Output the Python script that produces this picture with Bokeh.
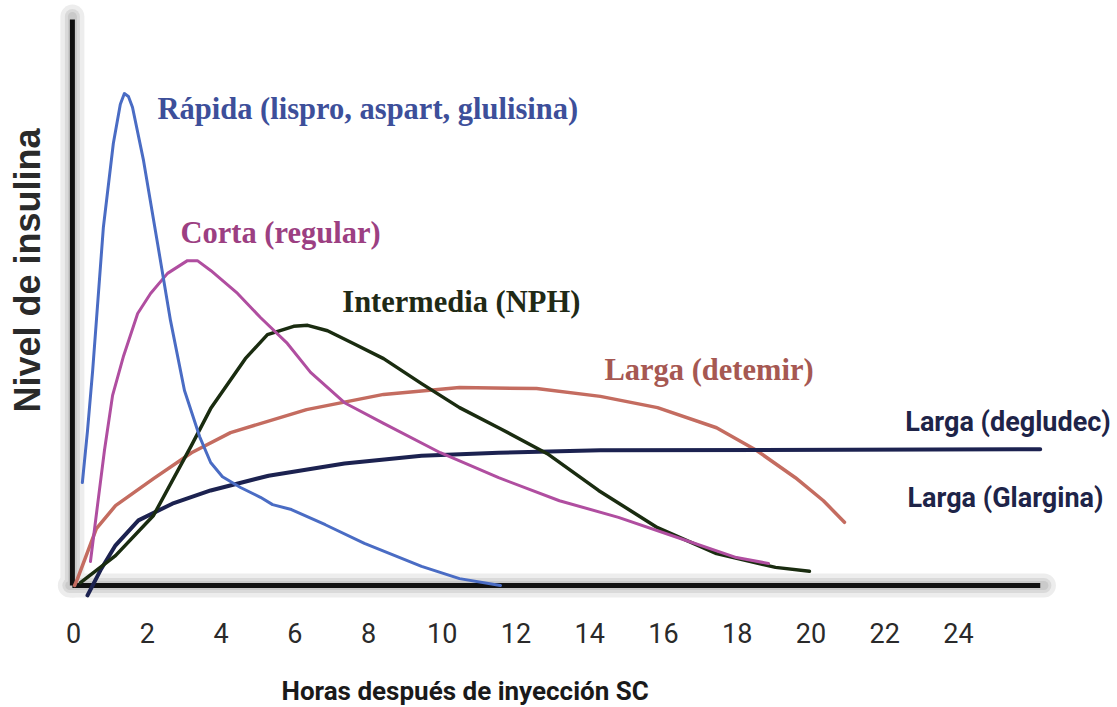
from bokeh.plotting import figure
from bokeh.models import Range1d
from bokeh.core.properties import value
from bokeh.embed import file_html
from bokeh.resources import INLINE
import math

# ---------------- data (hours after SC injection, relative insulin level) -------------
tick_hours = [0, 2, 4, 6, 8, 10, 12, 14, 16, 18, 20, 22, 24]
tick_labels = [str(t) for t in tick_hours]

rapida_h = [0.24, 0.38, 0.52, 0.81, 1.08, 1.27, 1.38, 1.49, 1.60, 1.90, 2.28, 2.63, 3.01,
            3.42, 3.72, 4.04, 4.53, 5.07, 5.40, 5.91, 6.83, 7.89, 9.44, 10.47, 11.58]
rapida_v = [21.0, 31.6, 43.9, 73.1, 90.2, 98.2, 100.4, 99.8, 97.6, 86.7, 69.8, 54.1, 39.8,
            30.4, 25.1, 22.2, 20.0, 18.0, 16.5, 15.5, 12.4, 8.6, 3.9, 1.4, 0.0]

corta_h = [0.46, 0.65, 0.84, 1.06, 1.36, 1.74, 2.09, 2.55, 3.09, 3.36, 3.72, 4.45, 5.07,
           5.80, 6.43, 7.35, 8.41, 9.95, 11.53, 13.18, 14.78, 16.38, 17.98, 18.85]
corta_v = [4.9, 16.3, 27.6, 38.8, 46.9, 55.5, 59.6, 63.7, 66.3, 66.3, 64.3, 59.6, 54.7,
           49.4, 43.5, 37.3, 33.1, 27.1, 22.0, 17.3, 13.9, 9.8, 5.7, 4.5]

nph_h = [0.19, 1.14, 2.17, 3.20, 3.72, 4.66, 5.26, 5.97, 6.35, 6.89, 7.59, 8.41, 9.44,
         10.47, 11.58, 12.85, 14.24, 15.84, 17.44, 19.04, 19.96]
nph_v = [0.6, 6.1, 14.3, 28.6, 36.1, 46.3, 51.2, 52.9, 53.1, 52.0, 49.4, 46.3, 41.2,
         36.3, 32.0, 26.9, 19.4, 11.8, 6.5, 3.7, 2.9]

detemir_h = [0.03, 0.11, 0.62, 1.14, 2.17, 3.20, 4.26, 6.32, 8.41, 10.47, 12.56, 14.29,
             15.84, 17.44, 18.52, 19.58, 20.34, 20.91]
detemir_v = [0.0, 1.4, 11.6, 16.3, 21.8, 27.1, 31.2, 35.9, 39.0, 40.4, 40.2, 38.6,
             36.3, 32.2, 27.6, 22.0, 17.3, 12.9]

basal_h = [0.38, 0.73, 1.14, 1.76, 2.68, 3.72, 5.29, 7.35, 9.44, 11.53, 14.29, 26.22]
basal_v = [-2.0, 3.1, 8.2, 13.3, 16.7, 19.4, 22.4, 24.9, 26.5, 27.1, 27.6, 27.8]

axis_x_end = 26.22
axis_y_end = 115.5

serif_labels = ["Rápida (lispro, aspart, glulisina)", "Corta  (regular)",
                "Intermedia (NPH)", "Larga (detemir)"]
serif_label_x = [2.28, 2.90, 7.29, 14.40]
serif_label_y = [97.3, 72.0, 57.8, 43.9]
serif_label_colors = ["#3d4f9a", "#9c3f82", "#1f2a16", "#a65852"]

sans_labels = ["Larga (degludec)", "Larga  (Glargina)"]
sans_label_x = [22.56, 22.62]
sans_label_y = [33.3, 17.8]

x_title = "Horas  después de inyección SC"
y_title = "Nivel de insulina"

# ---------------- figure ----------------
p = figure(width=1112, height=705, output_backend="svg", toolbar_location=None,
           x_range=Range1d(-1.98, 28.18), y_range=Range1d(-24.49, 119.39),
           x_axis_location=None, y_axis_location=None, min_border=0)
p.grid.visible = False
p.outline_line_color = None
p.background_fill_color = "white"
p.border_fill_color = "white"

# axis shadows
for w, c in [(24, "#ededed"), (15, "#dadada"), (9, "#cacaca")]:
    p.line([-0.1, axis_x_end + 0.1], [0, 0], line_width=w, line_color=c, line_cap="round")
    p.line([-0.03, -0.03], [0, axis_y_end + 0.6], line_width=w, line_color=c, line_cap="round")
# axis lines
p.line([-0.03, axis_x_end], [0, 0], line_width=5, line_color="#111111")
p.line([-0.03, -0.03], [0, axis_y_end], line_width=5, line_color="#111111")

# curves
p.line(detemir_h, detemir_v, line_width=3.5, line_color="#c46c60", line_join="round", line_cap="round")
p.line(basal_h, basal_v, line_width=4, line_color="#1c2250", line_join="round", line_cap="round")
p.line(nph_h, nph_v, line_width=3.5, line_color="#1a2c10", line_join="round", line_cap="round")
p.line(corta_h, corta_v, line_width=3, line_color="#b04ea0", line_join="round", line_cap="round")
p.line(rapida_h, rapida_v, line_width=3, line_color="#4a6cc4", line_join="round", line_cap="round")

# tick labels
p.text(x=tick_hours, y=[-9.6] * len(tick_hours), text=tick_labels,
       text_font=value("Roboto"), text_font_size="27px", text_color="#2a2a2a",
       text_align="center", text_baseline="alphabetic")

# curve labels
p.text(x=serif_label_x, y=serif_label_y, text=serif_labels, text_color=serif_label_colors,
       text_font=value("Liberation Serif"), text_font_style="bold", text_font_size="30.5px",
       text_align="left", text_baseline="alphabetic")
p.text(x=sans_label_x, y=sans_label_y, text=sans_labels, text_color="#1e2448",
       text_font=value("Roboto"), text_font_style="bold", text_font_size="27px",
       text_align="left", text_baseline="alphabetic")

# axis titles
p.text(x=[10.71], y=[-21.6], text=[x_title], text_color="#1a1a1a",
       text_font=value("Roboto"), text_font_style="bold", text_font_size="26px",
       text_align="center", text_baseline="alphabetic")
p.text(x=[-1.25], y=[64.3], text=[y_title], text_color="#2a2a2a", angle=math.pi / 2,
       text_font=value("Liberation Sans"), text_font_style="bold", text_font_size="36px",
       text_align="center", text_baseline="middle")

open("out.html", "w").write(file_html(p, INLINE))
